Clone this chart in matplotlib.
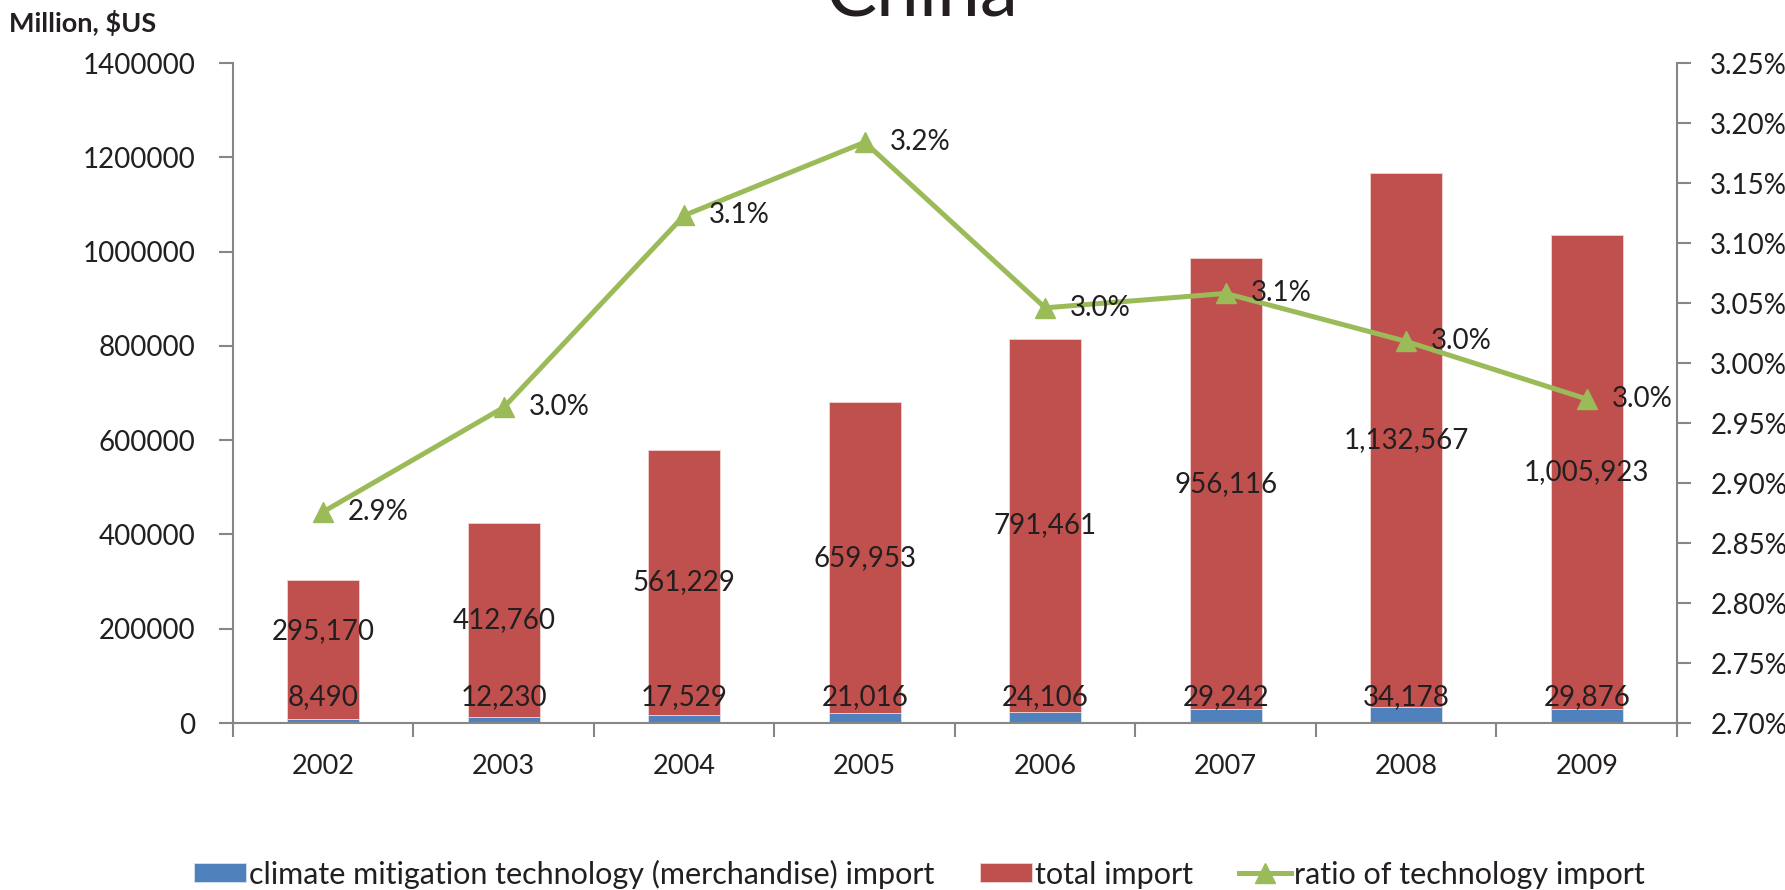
import matplotlib.pyplot as plt
from matplotlib.ticker import FuncFormatter, FixedLocator

plt.rcParams['font.family'] = ['Lato', 'DejaVu Sans']

years = ['2002', '2003', '2004', '2005', '2006', '2007', '2008', '2009']
tech_import = [8490, 12230, 17529, 21016, 24106, 29242, 34178, 29876]
total_import = [295170, 412760, 561229, 659953, 791461, 956116, 1132567, 1005923]
ratio = [2.876, 2.963, 3.123, 3.184, 3.046, 3.058, 3.018, 2.970]   # percent

blue = '#4F81BD'
red = '#C0504D'
green = '#9BBB59'
grey = '#868686'
txt = '#231F20'

fig = plt.figure(figsize=(17.85, 8.9), dpi=100)
ax = fig.add_axes([0.1305, 0.1876, 0.809, 0.7416])
ax2 = ax.twinx()

x = list(range(len(years)))
ax.bar(x, tech_import, width=0.4, color=blue, edgecolor='#d9e2f0', linewidth=0.6,
       label='climate mitigation technology (merchandise) import')
ax.bar(x, total_import, width=0.4, bottom=tech_import, color=red, edgecolor='#f0d4d3',
       linewidth=0.6, label='total import')

# value labels: tech share sits just above the axis, totals in the middle of the red part
for i in x:
    ax.text(i, 55000, f'{tech_import[i]:,}', ha='center', va='center', fontsize=20, color=txt)
    mid = tech_import[i] + total_import[i] / 2
    ax.text(i, max(mid, 195000), f'{total_import[i]:,}', ha='center', va='center',
            fontsize=20, color=txt)

ax.set_xlim(-0.5, 7.5)
ax.set_ylim(0, 1400000)
ax.set_yticks(range(0, 1400001, 200000))
ax.yaxis.set_major_formatter(FuncFormatter(lambda v, p: f'{int(v)}'))
ax.xaxis.set_major_locator(FixedLocator([i - 0.5 for i in range(len(years) + 1)]))
ax.xaxis.set_minor_locator(FixedLocator(x))
ax.set_xticklabels([])
ax.set_xticklabels(years, minor=True)
ax.tick_params(axis='x', which='major', length=10, width=1.5, color=grey, direction='out')
ax.tick_params(axis='x', which='minor', length=0, pad=22, labelsize=19.5, labelcolor=txt)
ax.tick_params(axis='y', length=10, width=1.5, color=grey, pad=17, labelsize=20,
               labelcolor=txt)

ax2.plot(x, ratio, color=green, lw=3.6, marker='^', markersize=15, label='ratio of technology import')
for i in x:
    ax2.annotate(f'{ratio[i]:.1f}%', (i, ratio[i]), xytext=(18, 0), textcoords='offset points',
                 ha='left', va='center', fontsize=20, color=txt)
ax2.set_ylim(2.70, 3.25)
ax2.set_yticks([2.70 + 0.05 * k for k in range(12)])
ax2.yaxis.set_major_formatter(FuncFormatter(lambda v, p: f'{v:.2f}%'))
ax2.tick_params(axis='y', length=10, width=1.5, color=grey, pad=14, labelsize=20,
                labelcolor=txt)

for a in (ax, ax2):
    a.spines['top'].set_visible(False)
    for s in ('left', 'right', 'bottom'):
        a.spines[s].set_color(grey)
        a.spines[s].set_linewidth(1.5)
ax.spines['right'].set_visible(False)
ax2.spines['left'].set_visible(False)
ax2.spines['bottom'].set_visible(False)

fig.text(0.005, 1 - 23 / 890, 'Million, $US', fontsize=19.5, fontweight='bold', color=txt,
         ha='left', va='center')
fig.text(0.5165, 1 - 16 / 890, 'China', fontsize=55, color=txt, ha='center', va='baseline')

h1, l1 = ax.get_legend_handles_labels()
h2, l2 = ax2.get_legend_handles_labels()
fig.legend(h1 + h2, l1 + l2, loc='center left', bbox_to_anchor=(179 / 1785, 1 - 874 / 890),
           ncol=3, frameon=False, fontsize=22, handlelength=1.7, handleheight=0.6,
           handletextpad=0.1, columnspacing=1.5, borderpad=0, labelcolor=txt)

fig.savefig('out.png', dpi=100)
